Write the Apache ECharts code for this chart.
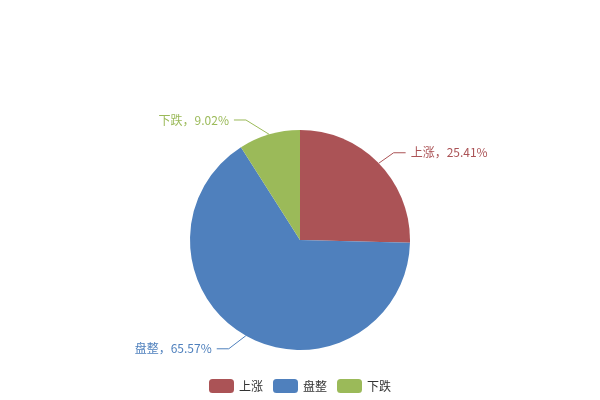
<!DOCTYPE html>
<html><head><meta charset="utf-8">
<script src="https://cdn.jsdelivr.net/npm/echarts@6/dist/echarts.min.js"></script>
<style>html,body{margin:0;padding:0;background:#fff}#c{width:600px;height:400px}</style>
</head><body><div id="c"></div>
<script>
const categories = ['上涨', '盘整', '下跌'];
const values = [25.41, 65.57, 9.02];
const colors = ['#AB5356', '#4F80BD', '#9BBA59'];

const chart = echarts.init(document.getElementById('c'), null, {renderer: 'canvas'});
const LEN = 15, LEN2 = 12, RADIUS_PCT = 0.55;
chart.setOption({
  animation: false,
  textStyle: {fontFamily: '"Noto Sans CJK SC", "Noto Sans", sans-serif'},
  color: colors,
  legend: {
    bottom: 2,
    left: 'center',
    itemWidth: 25,
    itemHeight: 14,
    itemGap: 10,
    textStyle: {fontSize: 12, color: '#333'},
    data: categories
  },
  series: [{
    type: 'pie',
    radius: '55%',
    center: ['50%', '60%'],
    startAngle: 90,
    clockwise: true,
    data: categories.map((c, i) => ({name: c, value: values[i]})),
    label: {formatter: '{b}，{d}%', fontSize: 12, color: 'inherit'},
    labelLine: {length: LEN, length2: LEN2},
    labelLayout: function (params) {
      const pts = params.labelLinePoints;
      if (!pts) return {};
      const w = chart.getWidth(), h = chart.getHeight();
      const cx = w * 0.5, cy = h * 0.6;
      const r = Math.min(w, h) / 2 * RADIUS_PCT;
      const R = r + LEN + LEN2;
      const dir = pts[2][0] < cx ? -1 : 1;
      const y = pts[1][1];
      const dy = Math.abs(y - cy);
      const dx = Math.sqrt(Math.max(R * R - dy * dy, 0));
      const x3 = cx + dir * dx;
      return {
        x: x3 + dir * 5,
        y: y,
        align: dir < 0 ? 'right' : 'left',
        verticalAlign: 'middle',
        labelLinePoints: [pts[0], [x3 - dir * LEN2, y], [x3, y]]
      };
    },
    itemStyle: {borderWidth: 0}
  }]
});
</script></body></html>
